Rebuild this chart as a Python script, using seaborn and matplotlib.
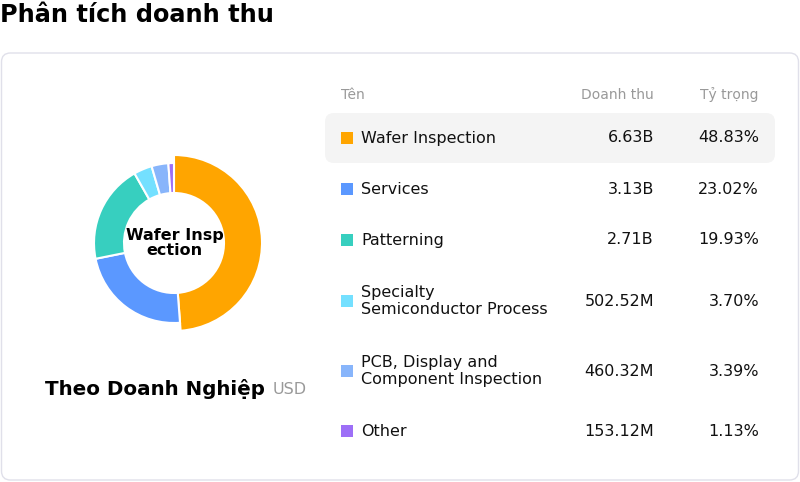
import matplotlib
matplotlib.use('Agg')
import matplotlib.pyplot as plt
import seaborn as sns
from matplotlib.patches import FancyBboxPatch, Rectangle

sns.set_theme(style='white')
plt.rcParams['font.family'] = ['DejaVu Sans']

# Data
segments = ['Wafer Inspection', 'Services', 'Patterning',
            'Specialty\nSemiconductor Process',
            'PCB, Display and\nComponent Inspection', 'Other']
revenue = [6.63e9, 3.13e9, 2.71e9, 502.52e6, 460.32e6, 153.12e6]
revenue_lbl = ['6.63B', '3.13B', '2.71B', '502.52M', '460.32M', '153.12M']
share = [48.83, 23.02, 19.93, 3.70, 3.39, 1.13]
colors = ['#ffa500', '#5b98ff', '#37cfbf', '#74e0ff', '#88b5fb', '#9d6ff7']

W, H = 800, 482
fig = plt.figure(figsize=(W / 100, H / 100), dpi=100)

# background canvas in pixel coordinates
bg = fig.add_axes([0, 0, 1, 1])
bg.set_xlim(0, W)
bg.set_ylim(H, 0)
bg.axis('off')

bg.text(0, 15, 'Phân tích doanh thu', fontsize=17.3, fontweight='bold',
        va='center', ha='left', color='#000000')

card = FancyBboxPatch((1.5, 53), 797, 427, boxstyle='round,pad=0,rounding_size=9',
                      facecolor='white', edgecolor='#e0e0ea', linewidth=1)
bg.add_patch(card)

# highlighted first row
hl = FancyBboxPatch((325, 113), 450, 50, boxstyle='round,pad=0,rounding_size=9',
                    facecolor='#f4f4f4', edgecolor='none')
bg.add_patch(hl)

# table header
bg.text(341, 95, 'Tên', fontsize=10, color='#999999', va='center', ha='left')
bg.text(654, 95, 'Doanh thu', fontsize=10, color='#999999', va='center', ha='right')
bg.text(759, 95, 'Tỷ trọng', fontsize=10, color='#999999', va='center', ha='right')

row_y = [138, 189, 240, 301, 371, 431]
for y, name, rl, s, c in zip(row_y, segments, revenue_lbl, share, colors):
    bg.add_patch(Rectangle((341, y - 6), 12, 12, facecolor=c, edgecolor='none'))
    bg.text(361, y, name, fontsize=11.5, color='#111111', va='center', ha='left',
            linespacing=1.1)
    bg.text(654, y, rl, fontsize=11.5, color='#111111', va='center', ha='right')
    bg.text(759, y, f'{s:.2f}%', fontsize=11.5, color='#111111', va='center', ha='right')

bg.text(265, 389, 'Theo Doanh Nghiệp', fontsize=14.3, fontweight='bold',
        color='#000000', va='center', ha='right')
bg.text(273, 389, 'USD', fontsize=11.5, color='#999999', va='center', ha='left')

# donut (highlighted slice drawn with a larger outer radius)
cx, cy, box = 174, 243, 200
ax = fig.add_axes([(cx - box / 2) / W, (H - cy - box / 2) / H, box / W, box / H])
wedges, _ = ax.pie(revenue, colors=colors, startangle=90, counterclock=False,
                   wedgeprops=dict(width=0.375, edgecolor='white', linewidth=1.5))
wedges[0].set_radius(1.1)
wedges[0].set_width(0.475)
ax.set_xlim(-1.25, 1.25)
ax.set_ylim(-1.25, 1.25)
ax.set_aspect('equal')
ax.axis('off')
ax.text(0.01, 0, 'Wafer Insp\nection', ha='center', va='center', fontsize=11.5,
        fontweight='bold', color='#000000', linespacing=0.95)

fig.savefig('out.png', dpi=100)
